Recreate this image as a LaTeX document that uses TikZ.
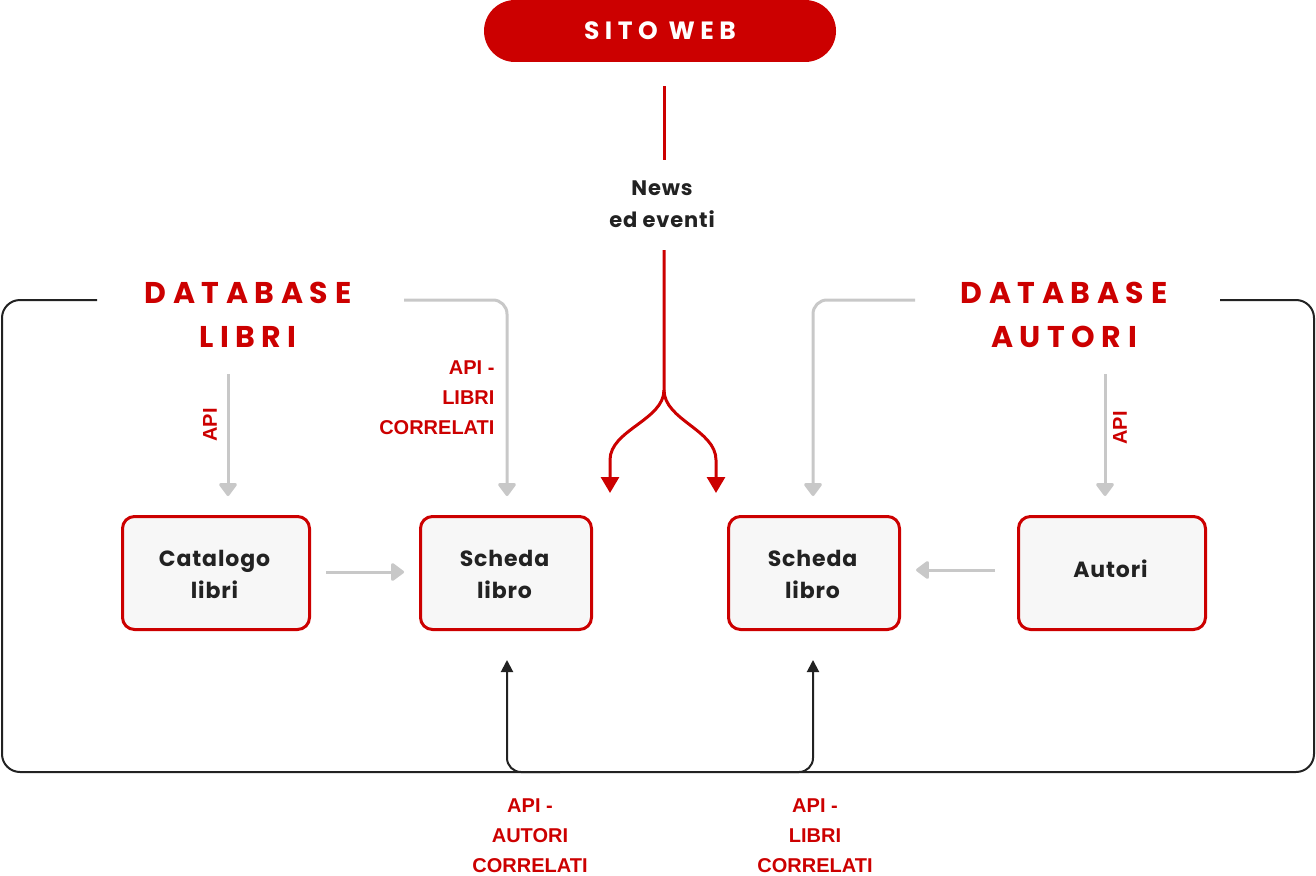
\documentclass[tikz,border=0pt]{standalone}
\usepackage{fontspec}
\setmainfont{Poppins}
\newfontfamily\spaced[LetterSpace=22]{Poppins}
\newfontfamily\bspaced[LetterSpace=4]{Poppins}
\newfontfamily\lab{Liberation Sans}
\usetikzlibrary{arrows.meta}
\definecolor{rd}{HTML}{CC0000}
\definecolor{gr}{HTML}{C8C8C8}
\definecolor{dk}{HTML}{222222}
\begin{document}
\begin{tikzpicture}[x=1pt,y=-1pt,
  box/.style={draw=rd,line width=3pt,fill={rgb,255:red,247;green,247;blue,247},rounded corners=12pt,anchor=north west},
  bt/.style={font=\bspaced\bfseries\fontsize{22}{32}\selectfont,text=dk,align=center},
  garr/.style={draw=gr,line width=3pt,-{Triangle[width=20pt,length=14pt,round]},rounded corners=14pt},
  rarr/.style={draw=rd,line width=3pt,-{Triangle[width=18pt,length=16pt]}},
  karr/.style={draw=dk,line width=2pt,-{Triangle[width=12pt,length=12pt]},rounded corners=14pt},
  db/.style={text=rd,font=\spaced\bfseries\fontsize{30}{44}\selectfont,align=center},
  lb/.style={text=rd,font=\lab\bfseries\fontsize{20}{30}\selectfont,align=center}]
\useasboundingbox (0,0) rectangle (1316,875);
\node[fill=rd,rounded corners=31pt,minimum width=352pt,minimum height=62pt,text=white,font=\spaced\bfseries\fontsize{25}{28}\selectfont] (web) at (660,31) {SITO WEB};
\node[box,minimum width=187pt,minimum height=113pt] (cat) at (121,515) {};
\node[bt] at (214.5,574) {Catalogo\\libri};
\node[box,minimum width=171pt,minimum height=113pt] (s1) at (419,515) {};
\node[bt] at (504.5,574) {Scheda\\libro};
\node[box,minimum width=171pt,minimum height=113pt] (s2) at (727,515) {};
\node[bt] at (812.5,574) {Scheda\\libro};
\node[box,minimum width=187pt,minimum height=113pt] (aut) at (1017,515) {};
\node[bt] at (1110.5,569) {Autori};
\node[db] (dbl) at (248,315) {DATABASE\\LIBRI};
\node[db] (dba) at (1064,315) {DATABASE\\AUTORI};
\node[font=\bspaced\bfseries\fontsize{21}{32}\selectfont,text=dk,align=center] (news) at (662,204) {News\\ed eventi};
% outer frame
\coordinate (tl) at (97,300); \coordinate (tr) at (1220,300);
\draw[dk,line width=2pt,rounded corners=18pt] (tl) -- (2,300) -- (2,772) -- (1314,772) -- (1314,300) -- (tr);
\draw[karr] (560,772) -- (507,772) -- (507,660);
\draw[karr] (760,772) -- (813,772) -- (813,660);
% gray arrows
\draw[garr] (404,300) -- (507,300) -- (507,496);
\draw[garr] (915,300) -- (813,300) -- (813,496);
\draw[garr] (228,374) -- (228,496);
\draw[garr] (1105,374) -- (1105,496);
\draw[garr] (326,572) -- (404,572);
\draw[garr] (995,570) -- (916,570);
% red
\draw[rd,line width=3pt] (664,86) -- (664,160);
\draw[rarr] (664,250) -- (664,390) .. controls (664,420) and (610,430) .. (610,460) -- (610,493);
\draw[rarr] (664,390) .. controls (664,420) and (716,430) .. (716,460) -- (716,493);
% labels
\node[lb,rotate=90] at (210,425) {API};
\node[lb,rotate=90] at (1120,428) {API};
\node[lb,align=right,anchor=east] at (498,398) {API -\\LIBRI\\CORRELATI};
\node[lb] at (530,836) {API -\\AUTORI\\CORRELATI};
\node[lb] at (815,836) {API -\\LIBRI\\CORRELATI};
\end{tikzpicture}
\end{document}
